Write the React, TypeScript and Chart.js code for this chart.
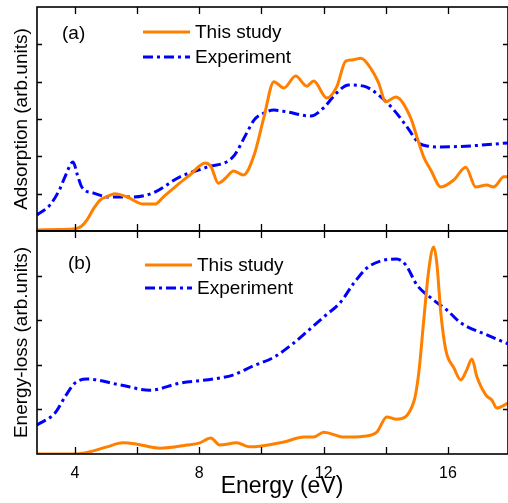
import React, { useEffect, useRef } from "react";
import { Chart, registerables } from "chart.js";

Chart.register(...registerables);

// ---------- axis ranges / ticks ----------
const X_MIN = 2.78;
const X_MAX = 17.93;
const xTickLabels = [4, 8, 12, 16];
const xTickMarks = [4, 6, 8, 10, 12, 14, 16];
const absYTicks = [1, 2, 3, 4, 5];
const elsYTicks = [1, 2, 3, 4];

// ---------- panel (a): absorption ----------
const absStudyE = [2.78, 3.5, 4.0, 4.2, 4.39, 4.6, 4.81, 5.03, 5.29, 5.68, 6.2, 6.58, 6.84, 7.29, 7.7, 8.19, 8.38, 8.61, 8.85, 9.1, 9.42, 9.77, 10.08, 10.4, 10.72, 11.1, 11.46, 11.68, 12.1, 12.42, 12.71, 12.9, 13.2, 13.55, 13.77, 14.0, 14.32, 14.8, 15.0, 15.22, 15.45, 15.77, 16.19, 16.57, 16.89, 17.25, 17.47, 17.8, 17.93];
const absStudyV = [0.03, 0.04, 0.06, 0.12, 0.3, 0.6, 0.83, 0.92, 1.0, 0.91, 0.72, 0.72, 0.91, 1.23, 1.5, 1.82, 1.72, 1.28, 1.42, 1.61, 1.5, 2.05, 3.05, 4.0, 3.83, 4.15, 3.88, 4.02, 3.56, 3.86, 4.55, 4.58, 4.63, 4.31, 3.96, 3.46, 3.59, 3.03, 2.52, 1.98, 1.63, 1.18, 1.37, 1.71, 1.18, 1.23, 1.18, 1.45, 1.45];

const absExpE = [2.78, 3.2, 3.5, 3.68, 3.94, 4.08, 4.22, 4.58, 5.13, 5.86, 6.51, 7.38, 8.24, 9.08, 9.53, 9.76, 10.08, 10.4, 10.82, 11.59, 12.0, 12.42, 12.8, 13.29, 13.77, 14.26, 14.68, 15.06, 15.4, 15.77, 16.73, 17.93];
const absExpV = [0.43, 0.7, 1.1, 1.45, 1.85, 1.5, 1.18, 1.02, 0.91, 0.91, 1.02, 1.45, 1.71, 1.98, 2.63, 2.97, 3.16, 3.24, 3.19, 3.08, 3.3, 3.7, 3.91, 3.88, 3.64, 3.24, 2.79, 2.36, 2.27, 2.25, 2.28, 2.36];

// ---------- panel (b): energy loss ----------
const elsStudyE = [2.78, 4.0, 4.48, 5.03, 5.54, 6.0, 6.73, 7.6, 8.02, 8.37, 8.66, 9.2, 9.62, 10.72, 11.36, 11.68, 12.0, 12.65, 13.29, 13.71, 14.03, 14.35, 14.9, 15.06, 15.22, 15.38, 15.54, 15.64, 15.77, 15.93, 16.19, 16.41, 16.6, 16.77, 16.93, 17.22, 17.41, 17.57, 17.93];
const elsStudyV = [0.0, 0.0, 0.05, 0.16, 0.25, 0.22, 0.13, 0.2, 0.25, 0.36, 0.2, 0.25, 0.16, 0.27, 0.38, 0.38, 0.49, 0.38, 0.4, 0.49, 0.83, 0.78, 1.17, 1.82, 3.0, 4.12, 4.64, 4.28, 3.16, 2.33, 1.93, 1.66, 1.88, 2.13, 1.73, 1.32, 1.21, 1.03, 1.14];

const elsExpE = [2.78, 3.36, 3.68, 4.0, 4.39, 5.45, 6.41, 7.38, 8.44, 9.08, 9.72, 10.4, 11.04, 11.46, 12.0, 12.55, 12.97, 13.39, 13.84, 14.35, 14.64, 15.0, 15.45, 15.96, 16.41, 17.25, 17.93];
const elsExpV = [0.65, 0.92, 1.28, 1.59, 1.68, 1.55, 1.43, 1.59, 1.68, 1.77, 1.97, 2.17, 2.49, 2.74, 3.07, 3.41, 3.83, 4.17, 4.33, 4.37, 4.24, 3.79, 3.5, 3.23, 2.94, 2.67, 2.47];

const ORANGE = "#FF8000";
const BLUE = "#0000FF";
const EXP_DASH = [10, 4, 3, 4];
const FONT = '"Liberation Sans", Arial, Helvetica, sans-serif';

const pts = (xs: number[], ys: number[]) => xs.map((x, i) => ({ x, y: ys[i] }));

const framePlugin = {
  id: "frame",
  afterDraw(chart: any, _args: any, opts: any) {
    const { ctx, chartArea: a, scales } = chart;
    ctx.save();
    ctx.strokeStyle = "#000";
    ctx.lineWidth = 1.6;
    ctx.strokeRect(a.left, a.top, a.right - a.left, a.bottom - a.top);
    ctx.lineWidth = 1.3;
    ctx.beginPath();
    for (const v of xTickMarks) {
      const px = Math.round(scales.x.getPixelForValue(v)) + 0.5;
      ctx.moveTo(px, a.top);
      ctx.lineTo(px, a.top + 7);
      ctx.moveTo(px, a.bottom);
      ctx.lineTo(px, a.bottom - 7);
    }
    for (const v of opts.yTicks) {
      const py = Math.round(scales.y.getPixelForValue(v)) + 0.5;
      ctx.moveTo(a.left, py);
      ctx.lineTo(a.left + 5, py);
      ctx.moveTo(a.right, py);
      ctx.lineTo(a.right - 5, py);
    }
    ctx.stroke();

    // panel label
    ctx.fillStyle = "#000";
    ctx.font = `19px ${FONT}`;
    ctx.textBaseline = "middle";
    ctx.textAlign = "left";
    ctx.fillText(opts.panel.text, opts.panel.x, opts.panel.y);

    // legend
    const lg = opts.legend;
    chart.data.datasets.forEach((ds: any, i: number) => {
      const y = lg.y0 + i * lg.dy;
      ctx.beginPath();
      ctx.strokeStyle = ds.borderColor;
      ctx.lineWidth = ds.borderWidth;
      ctx.setLineDash(ds.borderDash || []);
      ctx.moveTo(lg.x0, y);
      ctx.lineTo(lg.x1, y);
      ctx.stroke();
      ctx.setLineDash([]);
      ctx.fillStyle = "#000";
      ctx.fillText(ds.label, lg.textX, y + 1);
    });

    if (opts.xTitle) {
      ctx.font = `23px ${FONT}`;
      ctx.textAlign = "center";
      ctx.fillText(opts.xTitle.text, opts.xTitle.x, opts.xTitle.y);
    }
    ctx.restore();
  },
};

function makeConfig(
  study: { x: number; y: number }[],
  exp: { x: number; y: number }[],
  yMax: number,
  yTitle: string,
  showX: boolean,
  pluginOpts: any,
  padding: any
): any {
  const xScale: any = {
    type: "linear",
    min: X_MIN,
    max: X_MAX,
    display: showX,
    grid: { display: false, drawTicks: false },
    border: { display: false },
    afterBuildTicks: (s: any) => {
      s.ticks = xTickLabels.map((v) => ({ value: v }));
    },
    ticks: {
      color: "#000",
      padding: 10,
      maxRotation: 0,
      font: { family: FONT, size: 16 },
    },
  };
  if (showX) {
    xScale.afterFit = (s: any) => {
      s.height = 49;
    };
  }
  return {
    type: "line",
    data: {
      datasets: [
        {
          label: "This study",
          data: study,
          borderColor: ORANGE,
          borderWidth: 3,
          pointRadius: 0,
          cubicInterpolationMode: "monotone",
          fill: false,
        },
        {
          label: "Experiment",
          data: exp,
          borderColor: BLUE,
          borderWidth: 3,
          borderDash: EXP_DASH,
          pointRadius: 0,
          cubicInterpolationMode: "monotone",
          fill: false,
        },
      ],
    },
    options: {
      responsive: false,
      animation: false,
      layout: { padding },
      plugins: {
        legend: { display: false },
        tooltip: { enabled: false },
        frame: pluginOpts,
      },
      scales: {
        x: xScale,
        y: {
          min: 0,
          max: yMax,
          grid: { display: false, drawTicks: false },
          border: { display: false },
          ticks: { display: false },
          afterFit: (s: any) => {
            s.width = 37;
          },
          title: {
            display: true,
            text: yTitle,
            color: "#000",
            padding: { top: 10, bottom: 0 },
            font: { family: FONT, size: 19 },
          },
        },
      },
    },
    plugins: [framePlugin],
  };
}

export default function App() {
  const refA = useRef<HTMLCanvasElement>(null);
  const refB = useRef<HTMLCanvasElement>(null);

  useEffect(() => {
    const chartA = new Chart(
      refA.current as HTMLCanvasElement,
      makeConfig(
        pts(absStudyE, absStudyV),
        pts(absExpE, absExpV),
        6,
        "Adsorption (arb.units)",
        false,
        {
          yTicks: absYTicks,
          panel: { text: "(a)", x: 62, y: 34 },
          legend: { x0: 143, x1: 190, textX: 195, y0: 32, dy: 25 },
        },
        { top: 7, bottom: 9, left: 0, right: 0 }
      )
    );
    const chartB = new Chart(
      refB.current as HTMLCanvasElement,
      makeConfig(
        pts(elsStudyE, elsStudyV),
        pts(elsExpE, elsExpV),
        5,
        "Energy-loss (arb.units)",
        true,
        {
          yTicks: elsYTicks,
          panel: { text: "(b)", x: 68, y: 42 },
          legend: { x0: 145, x1: 192, textX: 197, y0: 43, dy: 23 },
          xTitle: { text: "Energy (eV)", x: 282, y: 265 },
        },
        { top: 9, bottom: 0, left: 0, right: 0 }
      )
    );
    return () => {
      chartA.destroy();
      chartB.destroy();
    };
  }, []);

  return (
    <div style={{ position: "fixed", left: 0, top: 0, width: 508, height: 503, background: "#fff" }}>
      <canvas
        ref={refA}
        width={508}
        height={240}
        style={{ position: "absolute", left: 0, top: 0, width: 508, height: 240, display: "block" }}
      />
      <canvas
        ref={refB}
        width={508}
        height={281}
        style={{ position: "absolute", left: 0, top: 222, width: 508, height: 281, display: "block" }}
      />
    </div>
  );
}
